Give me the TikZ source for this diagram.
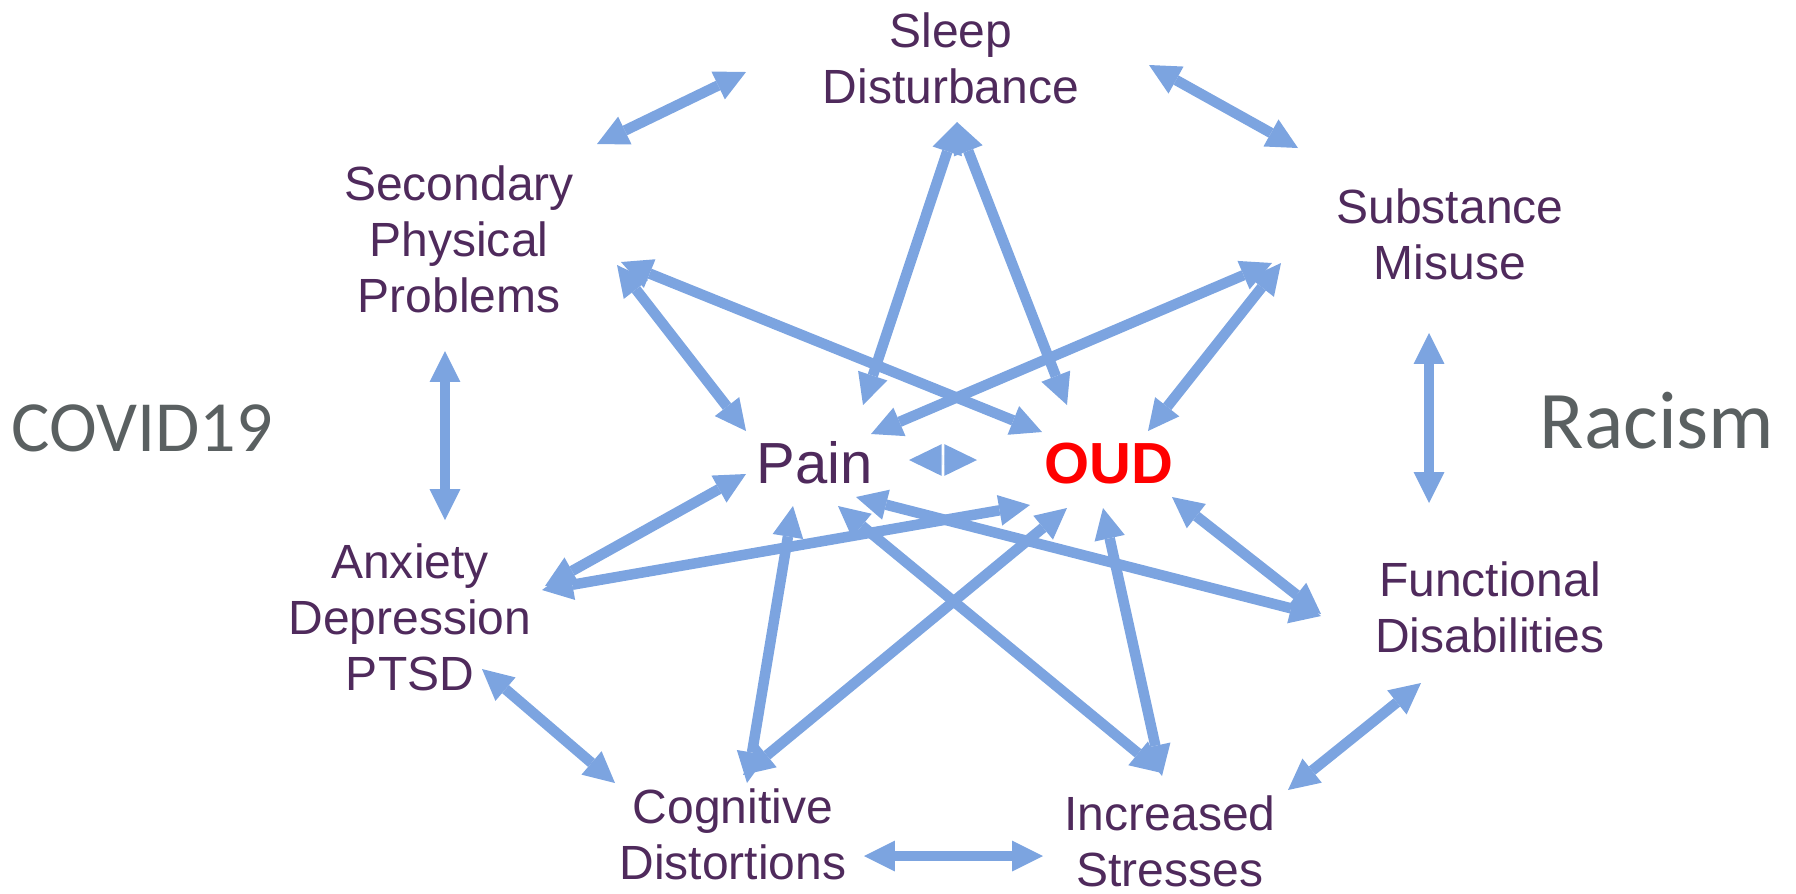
\documentclass[tikz,border=0pt]{standalone}
\usepackage{fontspec}
\setmainfont{Liberation Sans}
\newfontfamily\contextfont{Carlito}
\usetikzlibrary{arrows.meta}
\definecolor{mypurple}{HTML}{4F2A5C}
\definecolor{myblue}{HTML}{7CA4E0}
\definecolor{mygray}{HTML}{5A6061}
\definecolor{myred}{HTML}{FF0000}
\tikzset{
	factornode/.style={
			align=center,
			inner sep=0pt,
			anchor=north,
			text=mypurple,
			font=\fontsize{13.66}{15.93}\selectfont
		},
	centernode/.style={
			inner sep=0pt,
			anchor=base,
			font=\fontsize{16.5}{19}\selectfont
		},
	contextnode/.style={
			inner sep=0pt,
			anchor=base,
			text=mygray
		},
	link/.style={
			draw=myblue,
			line width=2.99pt,
			>={Triangle[length=8.8pt,width=8.8pt,line width=0pt]},
			<->
		},
	shortlink/.style={
			link,
			>={Triangle[length=9.25pt,width=9pt,line width=0pt]},
			->,
			shorten <=0.15mm
		}
}

\begin{document}
\begin{tikzpicture}[x=0.1mm, y=-0.1mm]
	\useasboundingbox (0,0) rectangle (1796,893);

	\node[factornode] (sleep) at (951,12) {Sleep\\Disturbance};
	\node[factornode] (secondary) at (459,165) {Secondary\\Physical\\Problems};
	\node[factornode] (substance) at (1450,188) {Substance\\Misuse};
	\node[factornode] (anxiety) at (410,543) {Anxiety\\Depression\\PTSD};
	\node[factornode] (functional) at (1490,561) {Functional\\Disabilities};
	\node[factornode] (cognitive) at (733,788) {Cognitive\\Distortions};
	\node[factornode] (stresses) at (1170,795) {Increased\\Stresses};

	\node[centernode, text=mypurple] (pain) at (815,483) {Pain};
	\node[centernode, text=myred, font=\fontsize{16.5}{19}\selectfont\bfseries] (oud) at (1109,483) {OUD};

	\node[contextnode, font=\contextfont\fontsize{20.5}{24}\selectfont] (covid) at (142,451) {COVID19};
	\node[contextnode, font=\contextfont\fontsize{23.3}{28}\selectfont] (racism) at (1657,448) {Racism};

	\draw[link] ([shift={(138,-21)}]secondary.north) -- ([shift={(-205,60)}]sleep.north);
	\draw[link] ([shift={(198,53)}]sleep.north) -- ([shift={(-152,-40)}]substance.north);
	\draw[link] ([shift={(-14,186)}]secondary.north) -- ([shift={(35,-23)}]anxiety.north);
	\draw[link] ([shift={(-21,145)}]substance.north) -- ([shift={(-61,-58)}]functional.north);
	\draw[link] ([shift={(72,126)}]anxiety.north) -- ([shift={(-118,-5)}]cognitive.north);
	\draw[link] ([shift={(-69,122)}]functional.north) -- ([shift={(118,-5)}]stresses.north);
	\draw[link] ([shift={(131,68)}]cognitive.north) -- ([shift={(-127,61)}]stresses.north);

	\draw[link] ([shift={(6,110)}]sleep.north) -- ([shift={(48,-78)}]pain.base);
	\draw[link] ([shift={(6,110)}]sleep.north) -- ([shift={(-42,-78)}]oud.base);
	\draw[link] ([shift={(158,100)}]secondary.north) -- ([shift={(-69,-52)}]pain.base);
	\draw[link] ([shift={(162,97)}]secondary.north) -- ([shift={(-67,-51)}]oud.base);
	\draw[link] ([shift={(-178,75)}]substance.north) -- ([shift={(56,-49)}]pain.base);
	\draw[link] ([shift={(-169,75)}]substance.north) -- ([shift={(39,-52)}]oud.base);
	\draw[link] ([shift={(135,43)}]anxiety.north) -- ([shift={(-69,-9)}]pain.base);
	\draw[link] ([shift={(132,47)}]anxiety.north) -- ([shift={(-79,22)}]oud.base);
	\draw[link] ([shift={(14,-5)}]cognitive.north) -- ([shift={(-22,23)}]pain.base);
	\draw[link] ([shift={(10,-13)}]cognitive.north) -- ([shift={(-42,25)}]oud.base);
	\draw[link] ([shift={(-8,-22)}]stresses.north) -- ([shift={(23,23)}]pain.base);
	\draw[link] ([shift={(-8,-19)}]stresses.north) -- ([shift={(-6,25)}]oud.base);
	\draw[link] ([shift={(-169,55)}]functional.north) -- ([shift={(41,14)}]pain.base);
	\draw[link] ([shift={(-169,53)}]functional.north) -- ([shift={(63,14)}]oud.base);

	\coordinate (mid) at ([shift={(128,-23)}]pain.base);
	\draw[shortlink] (mid) -- ([shift={(94,-23)}]pain.base);
	\draw[shortlink] (mid) -- ([shift={(-132,-23)}]oud.base);
\end{tikzpicture}
\end{document}
